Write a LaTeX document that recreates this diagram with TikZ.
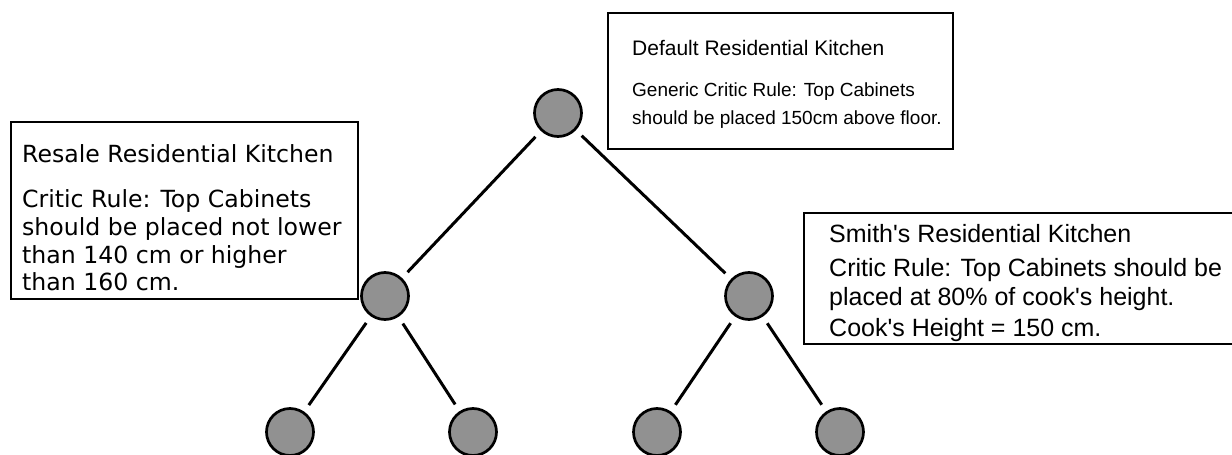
\documentclass[tikz,border=0pt]{standalone}
\usepackage{fontspec}
\newfontfamily\helvfont[Ligatures=TeXOff]{Liberation Sans}
\newfontfamily\grandefont[Ligatures=TeXOff]{DejaVu Sans}
\definecolor{nodegray}{RGB}{145,145,145}
\tikzset{
  treenode/.style={circle, draw, line width=2.7pt, fill=nodegray, minimum size=47pt, inner sep=0pt},
  treeedge/.style={line width=3pt, shorten <=8pt, shorten >=8pt},
  callout/.style={draw, line width=2pt, inner sep=0pt},
  note/.style={align=left, inner sep=0pt, anchor=base west},
  defaultnote/.style={note, font=\helvfont\fontsize{19}{28}\selectfont},
  smithnote/.style={note, font=\helvfont\fontsize{25}{29}\selectfont},
  resalenote/.style={note, font=\grandefont\fontsize{23.6}{27.7}\selectfont},
}
\begin{document}
\begin{tikzpicture}[x=1pt, y=-1pt]
      \useasboundingbox (0,0) rectangle (1232,455);
      \clip (0,0) rectangle (1232,455);
      % the tree
      \node[treenode] (root) at (558,113) {};
      \node[treenode] (resale) at (385,296) {};
      \node[treenode] (smith) at (749,296) {};
      \foreach \leaf/\x in {resalea/290, resaleb/473, smitha/657, smithb/840}
        \node[treenode] (\leaf) at (\x,432) {};
      \draw[treeedge] (root) -- (resale);
      \draw[treeedge] (root) -- (smith);
      \foreach \leaf in {resalea, resaleb}
        \draw[treeedge] (resale) -- (\leaf);
      \foreach \leaf in {smitha, smithb}
        \draw[treeedge] (smith) -- (\leaf);
      % the callouts (a text of several lines sits on its last baseline)
      \node[callout, anchor=north west, minimum width=345pt, minimum height=136pt] (defaultbox) at (607,12) {};
      \node[defaultnote, font=\helvfont\fontsize{21}{28}\selectfont] (defaulttitle) at (632,55) {Default Residential Kitchen};
      \node[defaultnote] (defaultrule) at (632,124.1) {Generic Critic Rule: Top Cabinets\\should be placed 150cm above floor.};
      \node[callout, anchor=north west, minimum width=347pt, minimum height=177pt] (resalebox) at (10,121) {};
      \node[resalenote] (resaletitle) at (22,162.8) {Resale Residential Kitchen};
      \node[resalenote] (resalerule) at (22,290.9) {Critic Rule: Top Cabinets\\should be placed not lower\\than 140 cm or higher\\than 160 cm.};
      \node[callout, anchor=north west, minimum width=440pt, minimum height=131pt] (smithbox) at (803,212) {};
      \node[smithnote] (smithtitle) at (829,242) {Smith's Residential Kitchen};
      \node[smithnote] (smithrule) at (829,305) {Critic Rule: Top Cabinets should be\\placed at 80\% of cook's height.};
      \node[smithnote] (smithheight) at (829,336) {Cook's Height = 150 cm.};
    \end{tikzpicture}
\end{document}
